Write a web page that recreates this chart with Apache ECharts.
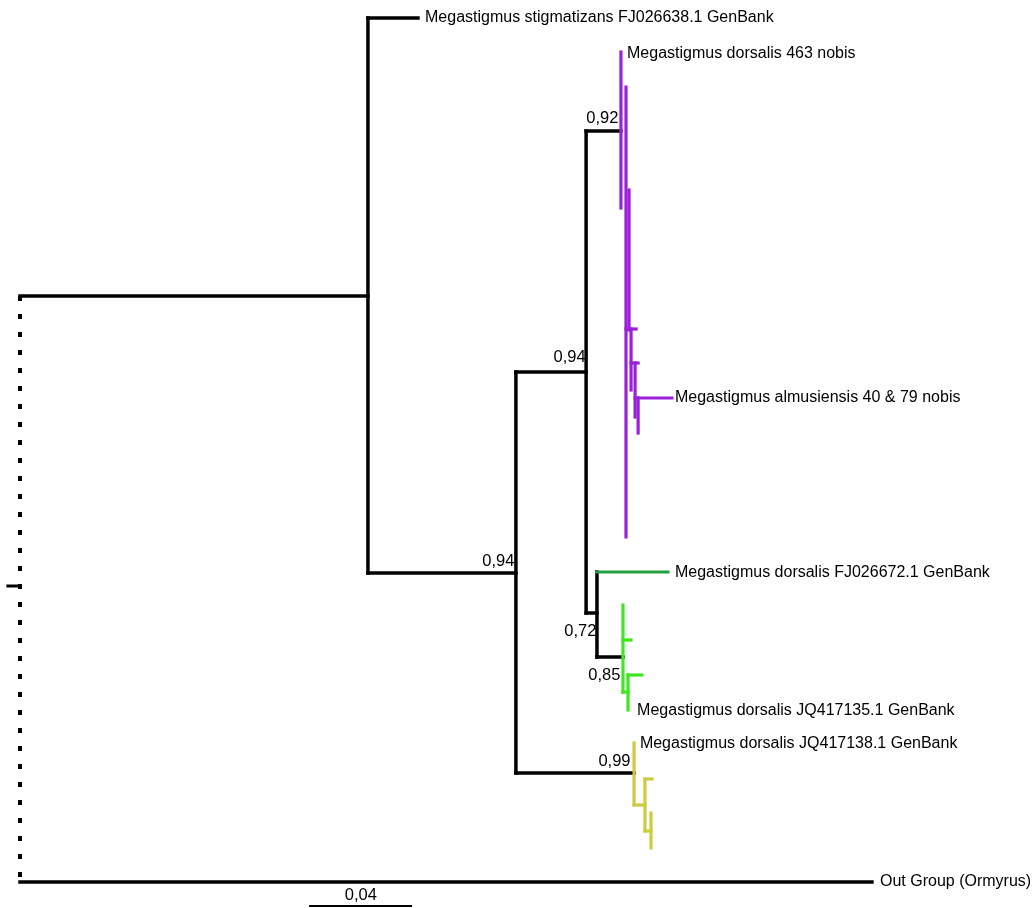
<!DOCTYPE html>
<html>
<head>
<meta charset="utf-8">
<script src="https://cdn.jsdelivr.net/npm/echarts@6/dist/echarts.min.js"></script>
<style>html,body{margin:0;padding:0;background:#fff}#c{width:1034px;height:908px}</style>
</head>
<body>
<div id="c"></div>
<script>
// Tree edges: [x1 (branch length), y1 (row), x2, y2]
const blackEdges = [
  [0, 296, 0.1378, 296],
  [0.1378, 18, 0.1378, 573],
  [0.1378, 18, 0.1576, 18],
  [0.1378, 573, 0.1964, 573],
  [0.1964, 372, 0.1964, 773],
  [0.1964, 372, 0.2242, 372],
  [0.2242, 131, 0.2242, 613],
  [0.2242, 131, 0.2380, 131],
  [0.2242, 613, 0.2285, 613],
  [0.2285, 572, 0.2285, 657],
  [0.2285, 657, 0.2388, 657],
  [0.1964, 773, 0.2432, 773],
  [0, 882, 0.3374, 882]
];
const rootDotted = [[0, 296, 0, 882]];
const rootTick = [[-0.0048, 586, 0, 586]];
const purpleEdges = [
  [0.2380, 52, 0.2380, 208],
  [0.2400, 87, 0.2400, 537],
  [0.2412, 190, 0.2412, 330],
  [0.2400, 329, 0.2440, 329],
  [0.2420, 329, 0.2420, 390],
  [0.2420, 363, 0.2448, 363],
  [0.2436, 363, 0.2436, 417],
  [0.2436, 398, 0.2582, 398],
  [0.2448, 398, 0.2448, 433]
];
const darkGreenEdges = [
  [0.2285, 572, 0.2566, 572]
];
const greenEdges = [
  [0.2388, 605, 0.2388, 692],
  [0.2388, 640, 0.2420, 640],
  [0.2388, 692, 0.2408, 692],
  [0.2408, 675, 0.2408, 710],
  [0.2408, 675, 0.2463, 675]
];
const yellowEdges = [
  [0.2432, 743, 0.2432, 805],
  [0.2432, 805, 0.2475, 805],
  [0.2475, 779, 0.2475, 831],
  [0.2475, 779, 0.2503, 779],
  [0.2475, 831, 0.2499, 831],
  [0.2499, 813, 0.2499, 848]
];
const scaleBar = [[0.1149, 906, 0.1549, 906]];
// Labels: [x, y, text]
const leafLabels = [
  [0.1604, 18, 'Megastigmus stigmatizans FJ026638.1 GenBank'],
  [0.2404, 54, 'Megastigmus dorsalis 463 nobis'],
  [0.2594, 398, 'Megastigmus almusiensis 40 & 79 nobis'],
  [0.2594, 573, 'Megastigmus dorsalis FJ026672.1 GenBank'],
  [0.2444, 711, 'Megastigmus dorsalis JQ417135.1 GenBank'],
  [0.2455, 744, 'Megastigmus dorsalis JQ417138.1 GenBank'],
  [0.3406, 882, 'Out Group (Ormyrus)']
];
const supportLabels = [
  [0.2370, 118, '0,92'],
  [0.2240, 357, '0,94'],
  [0.1958, 561, '0,94'],
  [0.2283, 631, '0,72'],
  [0.2378, 675, '0,85'],
  [0.2418, 761, '0,99']
];
const scaleLabel = [[0.1350, 895, '0,04']];

const FONT = '"Liberation Sans", Arial, sans-serif';

function segSeries(data, color, width, dash) {
  return {
    type: 'custom',
    coordinateSystem: 'cartesian2d',
    data: data,
    silent: true,
    renderItem: function (params, api) {
      const p1 = api.coord([api.value(0), api.value(1)]);
      const p2 = api.coord([api.value(2), api.value(3)]);
      return {
        type: 'line',
        shape: { x1: p1[0], y1: p1[1], x2: p2[0], y2: p2[1] },
        style: { stroke: color, lineWidth: width, lineCap: dash ? 'butt' : 'square', lineDash: dash || null }
      };
    }
  };
}
function textSeries(arr, align, size) {
  return {
    type: 'custom',
    coordinateSystem: 'cartesian2d',
    data: arr.map(d => [d[0], d[1]]),
    silent: true,
    renderItem: function (params, api) {
      const p = api.coord([api.value(0), api.value(1)]);
      return {
        type: 'text',
        x: p[0], y: p[1],
        style: { text: arr[params.dataIndex][2], fill: '#000', font: size + 'px ' + FONT, textAlign: align, textVerticalAlign: 'middle' }
      };
    }
  };
}

const chart = echarts.init(document.getElementById('c'), null, { renderer: 'canvas' });
chart.setOption({
  backgroundColor: '#fff',
  animation: false,
  grid: { left: 0, right: 0, top: 0, bottom: 0 },
  xAxis: { type: 'value', min: -20 / 2525, max: 1014 / 2525, show: false },
  yAxis: { type: 'value', min: 0, max: 908, inverse: true, show: false },
  series: [
    segSeries(rootDotted, '#000', 4, [5, 13]),
    segSeries(rootTick, '#000', 3),
    segSeries(blackEdges, '#000', 3.5),
    segSeries(purpleEdges, '#9b20d9', 3.2),
    segSeries(darkGreenEdges, '#20a040', 3.2),
    segSeries(greenEdges, '#3de820', 3.2),
    segSeries(yellowEdges, '#cccc40', 3.2),
    segSeries(scaleBar, '#000', 2),
    textSeries(leafLabels, 'left', 16),
    textSeries(supportLabels, 'right', 16.5),
    textSeries(scaleLabel, 'center', 16.5)
  ]
});
</script>
</body>
</html>
